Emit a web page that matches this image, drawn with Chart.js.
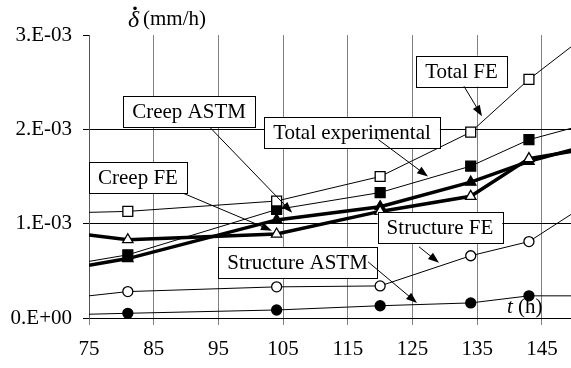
<!DOCTYPE html>
<html>
<head>
<meta charset="utf-8">
<script src="https://cdn.jsdelivr.net/npm/chart.js@4"></script>
<style>
html, body { margin: 0; padding: 0; background: #fff; overflow: hidden; }
</style>
</head>
<body>
<canvas id="chart" width="571" height="368"></canvas>
<script>
// data; the first and last time are where the lines meet the frame (no marker)
const times = [75, 81, 104, 120, 134, 143, 150];
const totalFE = [1.12e-3, 1.13e-3, 1.24e-3, 1.50e-3, 1.97e-3, 2.53e-3, 2.90e-3];
const totalExp = [0.60e-3, 0.67e-3, 1.15e-3, 1.33e-3, 1.61e-3, 1.89e-3, 2.02e-3];
const creepFE = [0.88e-3, 0.83e-3, 0.89e-3, 1.13e-3, 1.29e-3, 1.69e-3, 1.77e-3];
const creepASTM = [0.56e-3, 0.63e-3, 1.04e-3, 1.18e-3, 1.44e-3, 1.66e-3, 1.79e-3];
const structFE = [0.235e-3, 0.28e-3, 0.33e-3, 0.34e-3, 0.66e-3, 0.81e-3, 1.12e-3];
const structASTM = [0.04e-3, 0.05e-3, 0.085e-3, 0.13e-3, 0.16e-3, 0.235e-3, 0.235e-3];

const xTicks = [75, 85, 95, 105, 115, 125, 135, 145];
const yTickLabels = ['0.E+00', '1.E-03', '2.E-03', '3.E-03'];

// callouts, in data units: box centre, arrow start, arrow tip
const notes = [
  { text: 'Creep ASTM', at: [90.46, 2.186e-3], from: [93.7, 2.02e-3], to: [106.4, 1.117e-3] },
  { text: 'Total experimental', at: [115.65, 1.963e-3], from: [119.67, 1.894e-3], to: [127.4, 1.50e-3] },
  { text: 'Total FE', at: [132.57, 2.617e-3], from: [132.96, 2.457e-3], to: [135.74, 2.138e-3] },
  { text: 'Creep FE', at: [82.57, 1.489e-3], from: [89.68, 1.319e-3], to: [103.28, 0.926e-3] },
  { text: 'Structure ASTM', at: [107.23, 0.59e-3], from: [118.12, 0.596e-3], to: [125.7, 0.16e-3] },
  { text: 'Structure FE', at: [129.25, 0.957e-3], from: [126.0, 0.755e-3], to: [129.1, 0.585e-3] }
];

const serif = '"Liberation Serif", "DejaVu Serif", serif';
const marks = [0, 1, 1, 1, 1, 1, 0];

function series(values, style, fill, thick, size) {
  return {
    data: times.map((t, i) => ({ x: t, y: values[i] })),
    borderColor: '#000',
    borderWidth: thick ? 3.5 : 1,
    pointStyle: style,
    pointRadius: marks.map(m => m * size),
    pointBorderWidth: 1.3,
    pointBorderColor: '#000',
    pointBackgroundColor: fill ? '#000' : '#fff',
    tension: 0
  };
}

const notePlugin = {
  id: 'notes',
  afterDatasetsDraw(chart) {
    const { ctx, scales: { x, y } } = chart;
    ctx.save();
    ctx.font = '21px ' + serif;
    ctx.textAlign = 'center';
    ctx.textBaseline = 'middle';
    notes.forEach(n => {
      const cx = x.getPixelForValue(n.at[0]), cy = y.getPixelForValue(n.at[1]);
      const w = ctx.measureText(n.text).width + 18, h = 31;
      ctx.fillStyle = '#fff';
      ctx.fillRect(cx - w / 2, cy - h / 2, w, h);
      ctx.strokeStyle = '#000';
      ctx.lineWidth = 1;
      ctx.strokeRect(Math.round(cx - w / 2) + 0.5, Math.round(cy - h / 2) + 0.5, Math.round(w), h);
      ctx.fillStyle = '#000';
      ctx.fillText(n.text, cx, cy + 1);
    });
    notes.forEach(n => {
      const x0 = x.getPixelForValue(n.from[0]), y0 = y.getPixelForValue(n.from[1]);
      const x1 = x.getPixelForValue(n.to[0]), y1 = y.getPixelForValue(n.to[1]);
      const a = Math.atan2(y1 - y0, x1 - x0);
      ctx.strokeStyle = '#000';
      ctx.lineWidth = 1;
      ctx.beginPath();
      ctx.moveTo(x0, y0);
      ctx.lineTo(x1 - 6 * Math.cos(a), y1 - 6 * Math.sin(a));
      ctx.stroke();
      ctx.beginPath();
      ctx.moveTo(x1, y1);
      ctx.lineTo(x1 - 11 * Math.cos(a) + 4 * Math.sin(a), y1 - 11 * Math.sin(a) - 4 * Math.cos(a));
      ctx.lineTo(x1 - 11 * Math.cos(a) - 4 * Math.sin(a), y1 - 11 * Math.sin(a) + 4 * Math.cos(a));
      ctx.closePath();
      ctx.fillStyle = '#000';
      ctx.fill();
    });

    // axis titles
    const area = chart.chartArea;
    ctx.textAlign = 'left';
    ctx.textBaseline = 'alphabetic';
    ctx.font = 'italic 24px ' + serif;
    ctx.fillText('\u03B4', area.left + 39, 27);
    ctx.font = 'bold 24px ' + serif;
    ctx.fillText('\u02D9', area.left + 42, 23);
    ctx.font = '21px ' + serif;
    ctx.fillText('(mm/h)', area.left + 54, 25);
    ctx.font = 'italic 21px ' + serif;
    ctx.fillText('t', area.left + 418, 313);
    ctx.font = '21px ' + serif;
    ctx.fillText('(h)', area.left + 429, 313);
    ctx.restore();
  }
};

new Chart(document.getElementById('chart'), {
  type: 'line',
  data: {
    datasets: [
      series(structASTM, 'circle', true, false, 5),
      series(structFE, 'circle', false, false, 5),
      series(totalFE, 'rect', false, false, 7),
      series(totalExp, 'rect', true, false, 7),
      series(creepFE, 'triangle', false, true, 6),
      series(creepASTM, 'triangle', true, true, 6)
    ]
  },
  options: {
    responsive: false,
    devicePixelRatio: 1,
    animation: false,
    layout: { padding: { top: 35, right: 0, left: 0, bottom: 0 } },
    plugins: { legend: { display: false }, tooltip: { enabled: false } },
    scales: {
      x: {
        type: 'linear',
        min: 75,
        max: 149.5,
        afterBuildTicks: s => { s.ticks = xTicks.map(v => ({ value: v })); },
        afterFit: s => { s.height = 50; },
        ticks: {
          callback: v => String(v),
          font: { family: serif, size: 21 },
          color: '#000',
          padding: 12,
          maxRotation: 0
        },
        grid: { color: '#808080', tickLength: 7, tickColor: '#808080', lineWidth: 1 },
        border: { color: '#000', width: 1 }
      },
      y: {
        min: 0,
        max: 3e-3,
        ticks: {
          stepSize: 1e-3,
          callback: (v, i) => yTickLabels[i],
          font: { family: serif, size: 21 },
          color: '#000',
          padding: 11
        },
        afterFit: s => { s.width = 89; },
        grid: {
          color: c => (c.tick && c.tick.value > 2.5e-3) ? 'rgba(0,0,0,0)' : '#000',
          tickColor: '#000',
          tickLength: 6,
          lineWidth: 1
        },
        border: { color: '#555', width: 1 }
      }
    }
  },
  plugins: [notePlugin]
});
</script>
</body>
</html>
